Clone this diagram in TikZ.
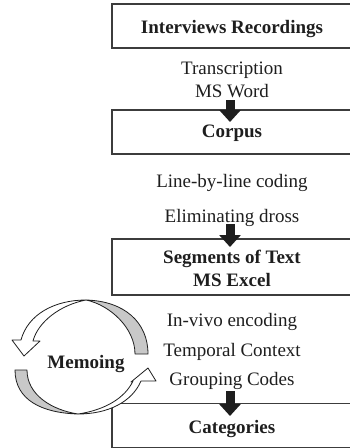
\documentclass[tikz,border=0pt]{standalone}
\usepackage{fontspec}
\setmainfont{Liberation Serif}
\usetikzlibrary{arrows.meta}
\definecolor{ink}{HTML}{1E1E1E}
\definecolor{frame}{HTML}{3C3C3C}
\definecolor{backside}{HTML}{C8C8C8}
\begin{document}
\begin{tikzpicture}[x=1pt,y=-1pt,
  stagebox/.style={draw=frame, line width=1.1pt, minimum width=260pt, inner sep=0pt},
  lbl/.style={font=\fontsize{19}{22}\selectfont, text=ink, anchor=base, inner sep=0pt},
  blbl/.style={lbl, font=\fontsize{19}{22}\selectfont\bfseries},
  flowarrow/.style={draw=ink, line width=9pt, -{Triangle[length=12pt,width=21pt]}},
  ribbon/.style={draw=ink, line width=0.8pt, line join=round}]
\useasboundingbox (0,0) rectangle (350,448);

% stage boxes (open to the right)
\begin{scope}
\clip (0,0) rectangle (350,448);
\node[stagebox, minimum height=44pt] (rec) at (242,26) {};
\node[stagebox, minimum height=44pt] (corpus) at (242,132) {};
\node[stagebox, minimum height=56pt] (seg) at (242,267) {};
\node[stagebox, minimum height=44pt] (cat) at (242,425.5) {};
\end{scope}

% box titles
\node[blbl] (recT) at (232,33) {Interviews Recordings};
\node[blbl] (corpusT) at (232,137) {Corpus};
\node[blbl] (segT1) at (232,263) {Segments of Text};
\node[blbl] (segT2) at (232,286) {MS Excel};
\node[blbl] (catT) at (232,433) {Categories};

% step labels
\node[lbl] (s1a) at (232,74) {Transcription};
\node[lbl] (s1b) at (232,97) {MS Word};
\node[lbl] (s2a) at (232,187) {Line-by-line coding};
\node[lbl] (s2b) at (232,222) {Eliminating dross};
\node[lbl] (s3a) at (232,326) {In-vivo encoding};
\node[lbl] (s3b) at (232,356) {Temporal Context};
\node[lbl] (s3c) at (232,385) {Grouping Codes};

% block arrows between stages
\coordinate (a1s) at (230,100); \coordinate (a1e) at (230,122);
\coordinate (a2s) at (230,224); \coordinate (a2e) at (230,247);
\coordinate (a3s) at (230,391); \coordinate (a3e) at (230,416);
\draw[flowarrow] (a1s) -- (a1e);
\draw[flowarrow] (a2s) -- (a2e);
\draw[flowarrow] (a3s) -- (a3e);

% memoing loop
\node[blbl] (memo) at (86,368) {Memoing};

% upper curved arrow: shaded back side, then front ribbon with open head
\filldraw[ribbon, fill=backside] (135,354) -- (148,354)
  .. controls (148,322) and (124,301) .. (86,300)
  .. controls (110,305) and (135,328) .. (135,354) -- cycle;
\filldraw[ribbon, fill=white] (86,300)
  .. controls (55,300) and (28,314) .. (21,340)
  -- (12,340) -- (24,356) -- (40,341) -- (33,341)
  .. controls (38,322) and (60,305) .. (86,300) -- cycle;

% lower curved arrow
\filldraw[ribbon, fill=backside] (27,370) -- (15,370)
  .. controls (15,400) and (42,413) .. (78,414)
  .. controls (52,410) and (27,395) .. (27,370) -- cycle;
\filldraw[ribbon, fill=white] (78,414)
  .. controls (108,414) and (132,402) .. (141,381)
  -- (156,381) -- (148,368) -- (131,382) -- (133,381)
  .. controls (125,398) and (105,410) .. (78,414) -- cycle;
\end{tikzpicture}
\end{document}
